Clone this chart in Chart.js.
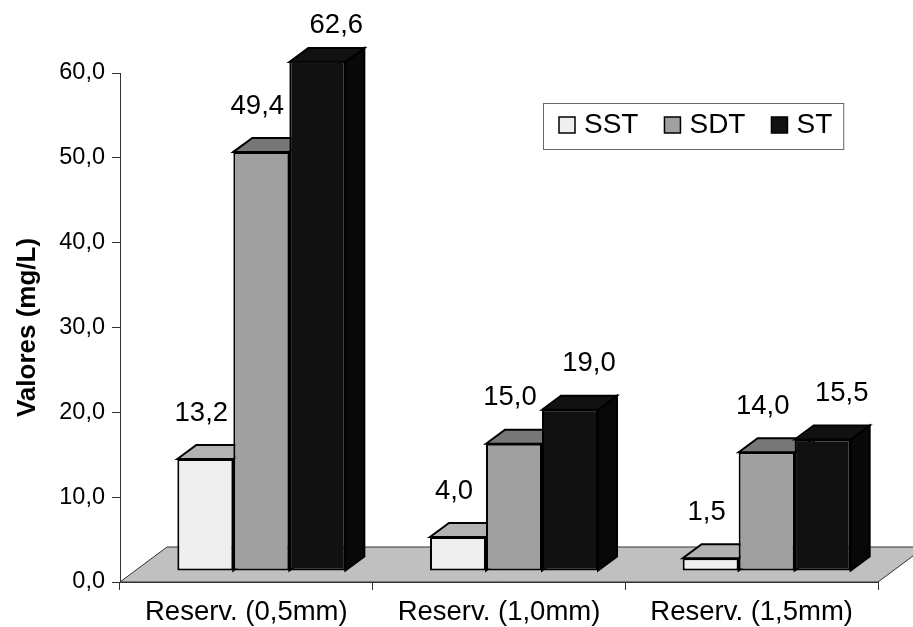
<!DOCTYPE html>
<html>
<head>
<meta charset="utf-8">
<script src="https://cdn.jsdelivr.net/npm/chart.js@4.4.1/dist/chart.umd.min.js"></script>
<style>
  html, body { margin: 0; padding: 0; background: #fff; }
  #wrap { width: 913px; height: 627px; }
</style>
</head>
<body>
<div id="wrap"><canvas id="chart" width="913" height="627"></canvas></div>
<script>
const categories = ["Reserv. (0,5mm)", "Reserv. (1,0mm)", "Reserv. (1,5mm)"];
const seriesNames = ["SST", "SDT", "ST"];
const sstValues = [13.2, 4.0, 1.5];
const sdtValues = [49.4, 15.0, 14.0];
const stValues = [62.6, 19.0, 15.5];
const yTicks = [0, 10, 20, 30, 40, 50, 60];

const fronts = ["#efefef", "#a0a0a0", "#111111"];
const tops = ["#b2b2b2", "#777777", "#111111"];
const sides = ["#d0d0d0", "#808080", "#080808"];

const FONT = "'Liberation Sans', Arial, sans-serif";

// fake 3d: floor depth, bar shift into the floor, bar depth
const floorDx = 47, floorDy = -35;
const shiftX = 15, shiftY = -11;
const depthX = 19, depthY = -14;

function fmt(v) {
    return v.toFixed(1).replace(".", ",");
}

const threeD = {
    id: "threeD",
    beforeDatasetsDraw(chart) {
        const ctx = chart.ctx;
        const area = chart.chartArea;

        // floor
        ctx.save();
        ctx.beginPath();
        ctx.moveTo(area.left, area.bottom);
        ctx.lineTo(area.left + floorDx, area.bottom + floorDy);
        ctx.lineTo(area.right + floorDx, area.bottom + floorDy);
        ctx.lineTo(area.right, area.bottom);
        ctx.closePath();
        ctx.fillStyle = "#c0c0c0";
        ctx.fill();
        ctx.strokeStyle = "#333";
        ctx.lineWidth = 1;
        ctx.stroke();
        ctx.restore();

        // tops and sides first, the fronts drawn by chart.js cover them
        ctx.save();
        ctx.translate(shiftX, shiftY);
        chart.data.datasets.forEach((ds, i) => {
            const meta = chart.getDatasetMeta(i);
            meta.data.forEach(bar => {
                const l = bar.x - bar.width / 2;
                const r = bar.x + bar.width / 2;
                const t = Math.max(bar.y, area.top);
                const b = bar.base;
                ctx.lineWidth = 2;
                ctx.strokeStyle = "#000";
                ctx.lineJoin = "miter";

                ctx.beginPath();
                ctx.moveTo(r, t);
                ctx.lineTo(r + depthX, t + depthY);
                ctx.lineTo(r + depthX, b + depthY);
                ctx.lineTo(r, b);
                ctx.closePath();
                ctx.fillStyle = sides[i];
                ctx.fill();
                ctx.stroke();

                ctx.beginPath();
                ctx.moveTo(l, t);
                ctx.lineTo(l + depthX, t + depthY);
                ctx.lineTo(r + depthX, t + depthY);
                ctx.lineTo(r, t);
                ctx.closePath();
                ctx.fillStyle = tops[i];
                ctx.fill();
                ctx.stroke();
            });
        });
    },
    afterDatasetsDraw(chart) {
        const ctx = chart.ctx;
        ctx.restore();

        // value labels
        const labelDx = [-4, -4, 19];
        ctx.save();
        ctx.fillStyle = "#000";
        ctx.font = "27.5px " + FONT;
        ctx.textAlign = "center";
        ctx.textBaseline = "middle";
        chart.data.datasets.forEach((ds, i) => {
            const meta = chart.getDatasetMeta(i);
            meta.data.forEach((bar, j) => {
                const x = bar.x + shiftX + labelDx[i];
                const y = Math.max(bar.y + shiftY - 46, 25);
                ctx.fillText(fmt(ds.data[j]), x, y);
            });
        });

        // legend box
        ctx.font = "28px " + FONT;
        ctx.textAlign = "left";
        ctx.textBaseline = "alphabetic";
        const boxL = 543, boxT = 103, boxB = 149;
        let x = boxL + 16;
        const items = [];
        chart.data.datasets.forEach((ds, i) => {
            items.push({ x: x, i: i, label: ds.label });
            x += 25 + ctx.measureText(ds.label).width + 26;
        });
        const boxR = x - 26 + 11;
        ctx.fillStyle = "#fff";
        ctx.fillRect(boxL, boxT, boxR - boxL, boxB - boxT);
        ctx.strokeStyle = "#666";
        ctx.lineWidth = 1;
        ctx.strokeRect(boxL + 0.5, boxT + 0.5, boxR - boxL, boxB - boxT);
        items.forEach(it => {
            ctx.fillStyle = fronts[it.i];
            ctx.fillRect(it.x, 117, 16, 16);
            ctx.strokeStyle = "#000";
            ctx.lineWidth = 1.5;
            ctx.strokeRect(it.x, 117, 16, 16);
            ctx.fillStyle = "#000";
            ctx.fillText(it.label, it.x + 25, 133);
        });
        ctx.restore();
    }
};

const seriesValues = [sstValues, sdtValues, stValues];

new Chart(document.getElementById("chart"), {
    type: "bar",
    data: {
        labels: categories,
        datasets: seriesNames.map((name, i) => ({
            label: name,
            data: seriesValues[i],
            backgroundColor: fronts[i],
            borderColor: "#000",
            borderWidth: 2,
            borderSkipped: false,
            categoryPercentage: 0.665,
            barPercentage: 1,
            clip: 0
        }))
    },
    options: {
        responsive: false,
        animation: false,
        events: [],
        layout: { padding: { top: 73, right: 35, left: 0, bottom: 0 } },
        plugins: {
            legend: { display: false },
            tooltip: { enabled: false }
        },
        scales: {
            x: {
                grid: { drawOnChartArea: false, drawTicks: true, tickLength: 8, color: "#333", offset: true },
                border: { display: true, color: "#333", width: 1 },
                ticks: { color: "#000", font: { family: FONT, size: 27.5 }, padding: 6, maxRotation: 0 },
                afterFit: s => { s.height = 45; }
            },
            y: {
                min: 0,
                max: 60,
                grid: { drawOnChartArea: false, drawTicks: true, tickLength: 8, color: "#333" },
                border: { display: true, color: "#333", width: 1 },
                afterBuildTicks: s => { s.ticks = yTicks.map(v => ({ value: v })); },
                ticks: {
                    color: "#000",
                    font: { family: FONT, size: 23.5 },
                    padding: 7,
                    callback: v => fmt(v)
                },
                title: {
                    display: true,
                    text: "Valores (mg/L)",
                    color: "#000",
                    font: { family: FONT, size: 26, weight: "bold" },
                    padding: { top: 12, bottom: 0 }
                },
                afterFit: s => { s.width = 120; }
            }
        }
    },
    plugins: [threeD]
});
</script>
</body>
</html>
